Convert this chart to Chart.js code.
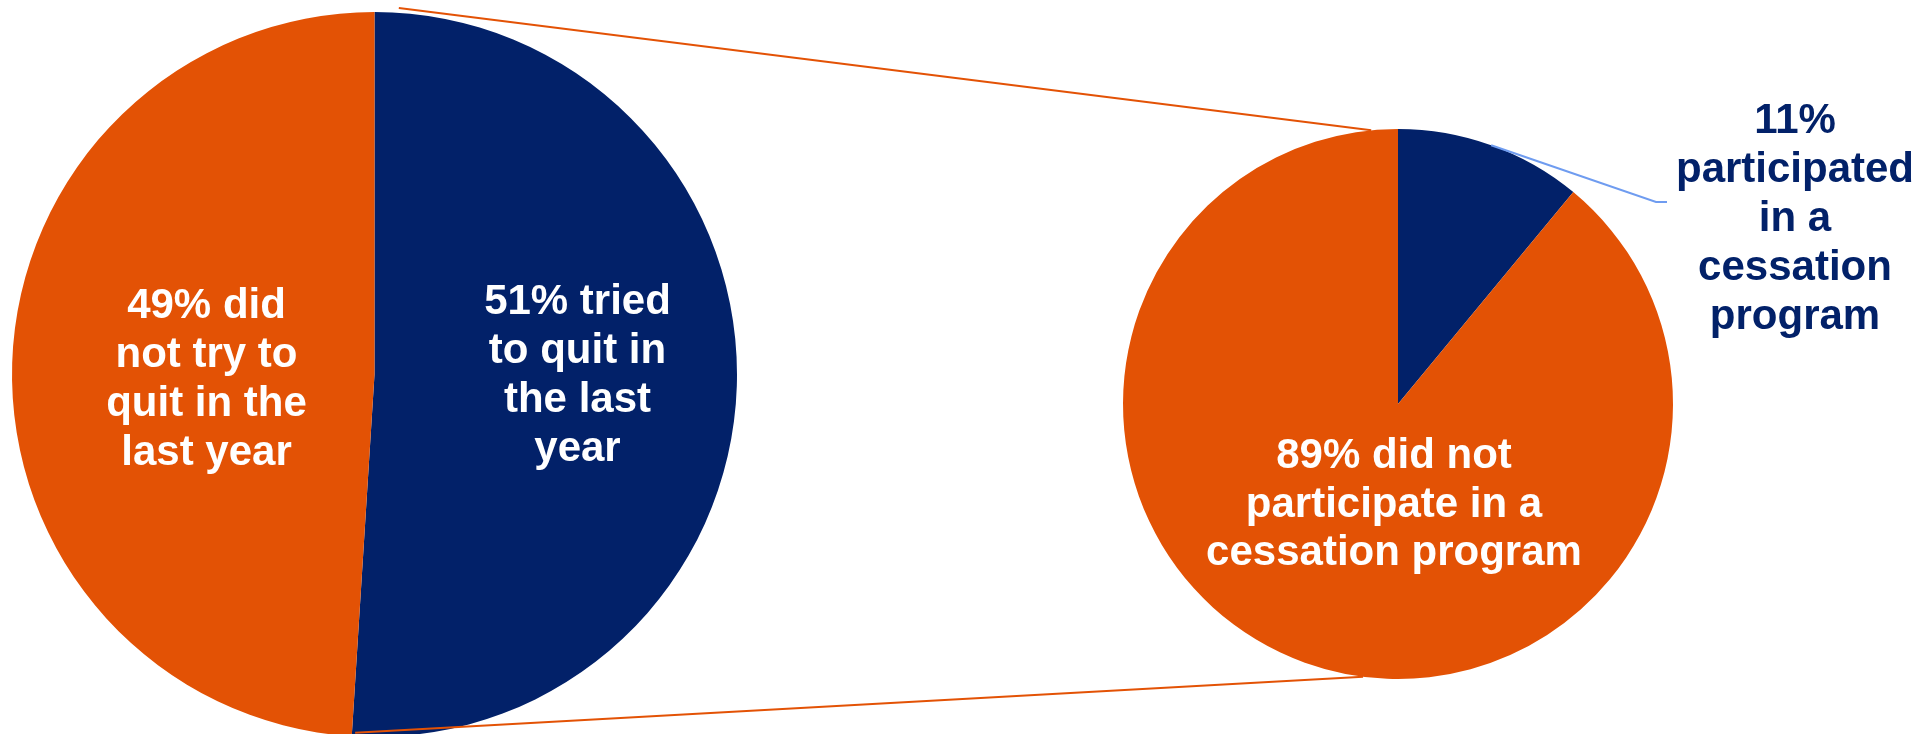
<!DOCTYPE html>
<html lang="en">
<head>
<meta charset="utf-8">
<script src="https://cdn.jsdelivr.net/npm/chart.js@4.4.1/dist/chart.umd.min.js"></script>
<style>
  html, body { margin: 0; padding: 0; background: #fff; overflow: hidden; }
  #scene { position: relative; width: 1928px; height: 734px; overflow: hidden; }
  #scene canvas { position: absolute; left: 0; top: 0; }
</style>
</head>
<body>
<div id="scene">
  <canvas id="pieMain" width="1928" height="760"></canvas>
  <canvas id="pieDetail" width="1928" height="760"></canvas>
</div>
<script>
// Données : tentative d'arrêt (pie principal) et programme de sevrage (pie détail)
const quitCategories = ["Tried to quit in the last year", "Did not try to quit in the last year"];
const quitValues = [51, 49];
const programCategories = ["Participated in a cessation program", "Did not participate in a cessation program"];
const programValues = [11, 89];

// Textes des étiquettes, une ligne par entrée
const quitLabels = [
  ["51% tried", "to quit in", "the last", "year"],
  ["49% did", "not try to", "quit in the", "last year"],
];
const programLabels = [
  ["11%", "participated", "in a", "cessation", "program"],
  ["89% did not", "participate in a", "cessation program"],
];

const NAVY = "#022169";
const ORANGE = "#E35205";
const FONT = 'bold 42px "Liberation Sans", Arial, sans-serif';

// Placement des étiquettes, relatif au centre du pie (px) : dx = centre du texte,
// dy = 1re ligne de base. leader = coude/fin du trait de rappel.
const quitPlace = [
  { dx: 203, dy: -61, color: "#fff", lh: 49 },
  { dx: -168, dy: -57, color: "#fff", lh: 49 },
];
const programPlace = [
  { dx: 397, dy: -271, color: NAVY, lh: 49, leader: [[258, -202], [269, -202]] },
  { dx: -4, dy: 64, color: "#fff", lh: 48.5 },
];

// Traits de liaison entre les deux pies : angle (deg, horaire depuis midi) et facteur de rayon
const connectors = [
  { from: [3.8, 1.013], to: [-5.6, 1.0] },
  { from: [183.1, 0.99], to: [187.3, 1.0] },
];

function labelPlugin(lines, place) {
  return {
    id: "etiquettes",
    afterDatasetsDraw(chart) {
      const ctx = chart.ctx;
      const arcs = chart.getDatasetMeta(0).data;
      arcs.forEach((arc, i) => {
        const p = place[i];
        ctx.save();
        if (p.leader) {
          const mid = (arc.startAngle + arc.endAngle) / 2;
          ctx.strokeStyle = "#6f9cf0";
          ctx.lineWidth = 2;
          ctx.beginPath();
          ctx.moveTo(arc.x + Math.cos(mid) * arc.outerRadius, arc.y + Math.sin(mid) * arc.outerRadius);
          p.leader.forEach(([lx, ly]) => ctx.lineTo(arc.x + lx, arc.y + ly));
          ctx.stroke();
        }
        ctx.font = FONT;
        ctx.fillStyle = p.color;
        ctx.textAlign = "center";
        ctx.textBaseline = "alphabetic";
        lines[i].forEach((t, k) => ctx.fillText(t, arc.x + p.dx, arc.y + p.dy + k * p.lh));
        ctx.restore();
      });
    },
  };
}

function pt(arc, deg, f) {
  const a = (deg * Math.PI) / 180;
  return [arc.x + Math.sin(a) * arc.outerRadius * f, arc.y - Math.cos(a) * arc.outerRadius * f];
}

const connectorPlugin = {
  id: "liaisons",
  afterDraw(chart) {
    const main = Chart.getChart("pieMain");
    if (!main) return;
    const a = main.getDatasetMeta(0).data[0];
    const b = chart.getDatasetMeta(0).data[0];
    const ctx = chart.ctx;
    ctx.save();
    ctx.strokeStyle = ORANGE;
    ctx.lineWidth = 2;
    connectors.forEach((c) => {
      const p1 = pt(a, c.from[0], c.from[1]);
      const p2 = pt(b, c.to[0], c.to[1]);
      ctx.beginPath();
      ctx.moveTo(p1[0], p1[1]);
      ctx.lineTo(p2[0], p2[1]);
      ctx.stroke();
    });
    ctx.restore();
  },
};

function pieOptions(padding) {
  return {
    responsive: false,
    animation: false,
    events: [],
    layout: { padding },
    plugins: { legend: { display: false }, tooltip: { enabled: false } },
  };
}

new Chart(document.getElementById("pieMain"), {
  type: "pie",
  data: {
    labels: quitCategories,
    datasets: [{ data: quitValues, backgroundColor: [NAVY, ORANGE], borderWidth: 0, hoverOffset: 0 }],
  },
  options: pieOptions({ left: 12, top: 12, right: 1191, bottom: 23 }),
  plugins: [labelPlugin(quitLabels, quitPlace)],
});

new Chart(document.getElementById("pieDetail"), {
  type: "pie",
  data: {
    labels: programCategories,
    datasets: [{ data: programValues, backgroundColor: [NAVY, ORANGE], borderWidth: 0, hoverOffset: 0 }],
  },
  options: pieOptions({ left: 1123, top: 129, right: 255, bottom: 81 }),
  plugins: [labelPlugin(programLabels, programPlace), connectorPlugin],
});
</script>
</body>
</html>
